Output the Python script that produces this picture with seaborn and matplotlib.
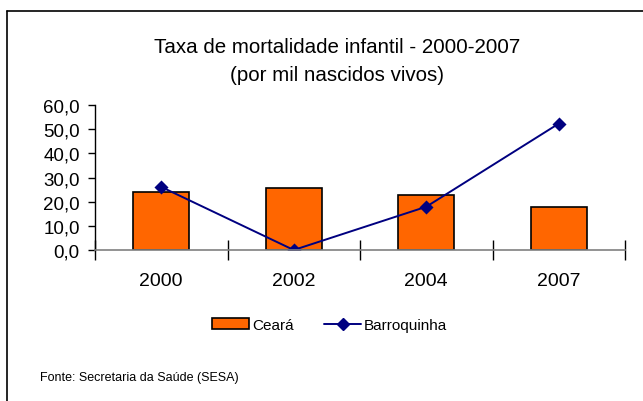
import matplotlib
matplotlib.use('Agg')
import matplotlib.pyplot as plt
import seaborn as sns
import pandas as pd
from matplotlib.ticker import FuncFormatter, FixedLocator
from matplotlib.lines import Line2D

# Data
anos = ['2000', '2002', '2004', '2007']
ceara = [24.2, 25.7, 22.7, 18.0]
barroquinha = [26.1, 0.0, 17.9, 52.3]

sns.set_theme(style="white")
plt.rcParams['font.family'] = ['Liberation Sans', 'DejaVu Sans']
plt.rcParams['text.color'] = 'black'
plt.rcParams['xtick.color'] = 'black'
plt.rcParams['ytick.color'] = 'black'

df = pd.DataFrame({'ano': anos, 'Ceará': ceara, 'Barroquinha': barroquinha})

fig = plt.figure(figsize=(6.43, 4.02), dpi=100)
ax = fig.add_axes([95/643, 1 - 251/402, 530/643, 145/402])

sns.barplot(data=df, x='ano', y='Ceará', color='#FF6600', edgecolor='black',
            linewidth=1.2, width=0.42, saturation=1, ax=ax)
sns.pointplot(data=df, x='ano', y='Barroquinha', color='#000080', markers='D',
              linestyles='-', errorbar=None, ax=ax,
              markersize=6, linewidth=1.4)

ax.set_ylim(0, 60)
ax.set_xlim(-0.5, 3.5)
ax.set_xlabel('')
ax.set_ylabel('')
ax.set_yticks([0, 10, 20, 30, 40, 50, 60])
ax.yaxis.set_major_formatter(FuncFormatter(lambda v, p: f'{v:.1f}'.replace('.', ',')))
ax.tick_params(axis='y', direction='out', length=5, width=1, color='black',
               labelsize=13.5, pad=6, left=True)
ax.tick_params(axis='x', which='major', length=0, labelsize=14, pad=16)
ax.xaxis.set_minor_locator(FixedLocator([-0.5, 0.5, 1.5, 2.5, 3.5]))
ax.tick_params(axis='x', which='minor', direction='inout', length=14, width=1,
               color='black', bottom=True)

for s in ['top', 'right']:
    ax.spines[s].set_visible(False)
ax.spines['left'].set_color('black')
ax.spines['bottom'].set_color('#808080')
ax.spines['bottom'].set_linewidth(1.2)
ax.spines['left'].set_linewidth(1)
ax.set_facecolor('white')
if ax.get_legend() is not None:
    ax.get_legend().remove()

fig.text(0.524, 0.847, 'Taxa de mortalidade infantil - 2000-2007\n(por mil nascidos vivos)',
         ha='center', va='center', fontsize=14.8, linespacing=1.55)

handles = [plt.Rectangle((0, 0), 1, 1, facecolor='#FF6600', edgecolor='black', linewidth=1.2),
           Line2D([0], [0], color='#000080', marker='D', markersize=6, linewidth=1.4)]
fig.legend(handles, ['Ceará', 'Barroquinha'], loc='center', bbox_to_anchor=(0.513, 0.189),
           ncol=2, frameon=False, fontsize=11, handlelength=2.4, handletextpad=0.2,
           columnspacing=2.0)

fig.text(40/643, 1 - 378/402, 'Fonte: Secretaria da Saúde (SESA)', fontsize=9,
         ha='left', va='center')

fig.add_artist(Line2D([7/643, 7/643], [0, 1 - 12/402], color='black', linewidth=1.2))
fig.add_artist(Line2D([7/643, 1], [1 - 12/402, 1 - 12/402], color='black', linewidth=1.2))

fig.savefig('out.png', dpi=100)
